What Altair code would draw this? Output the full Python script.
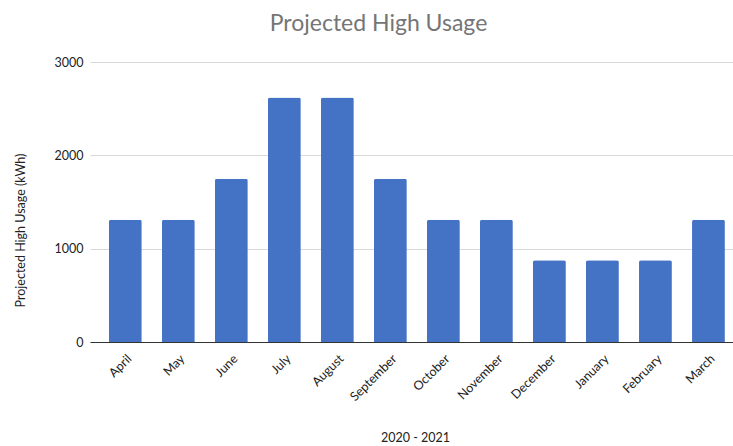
import altair as alt
import pandas as pd

months = ["April", "May", "June", "July", "August", "September", "October",
          "November", "December", "January", "February", "March"]
usage = [1310, 1310, 1750, 2620, 2620, 1750, 1310, 1310, 875, 875, 875, 1310]

df = pd.DataFrame({"month": months, "usage": usage})

FONT = "Lato"

chart = alt.Chart(df).mark_bar(
    color="#4472C4", cornerRadiusTopLeft=2, cornerRadiusTopRight=2
).encode(
    x=alt.X("month:N", sort=months,
            scale=alt.Scale(paddingInner=0.38, paddingOuter=0.255, align=0.7),
            axis=alt.Axis(title="2020 - 2021", labelAngle=315, labelAlign="right",
                          labelBaseline="top", labelPadding=10, ticks=False,
                          domainColor="#333333", labelFont=FONT, labelFontSize=12.5,
                          labelColor="#222222", titleFont=FONT, titleFontSize=12.5,
                          titleFontWeight="normal", titleColor="#222222",
                          titleX=325, titleY=95, titleAlign="center",
                          titleBaseline="middle")),
    y=alt.Y("usage:Q", scale=alt.Scale(domain=[0, 3000]),
            axis=alt.Axis(title="Projected High Usage (kWh)", values=[0, 1000, 2000, 3000],
                          format="d",
                          domain=False, ticks=False, labelPadding=7, gridColor="#d9d9d9",
                          labelFont=FONT, labelFontSize=12.5, labelColor="#222222",
                          titleFont=FONT, titleFontSize=12.5, titleFontWeight="normal",
                          titleColor="#222222", titleAngle=270, titleX=-70, titleY=168,
                          titleAlign="center", titleBaseline="middle")),
).properties(
    width=643, height=280,
    title=alt.TitleParams("Projected High Usage", font=FONT, fontSize=23,
                          fontWeight="normal", color="#757575", anchor="middle",
                          dx=-33, offset=2, baseline="alphabetic"),
    autosize=alt.AutoSizeParams(type="none"),
    padding={"left": 90, "top": 62, "right": 0, "bottom": 104},
).configure_view(stroke=None).configure_axisX(grid=False)

chart.save("out.html", embed_options={"renderer": "svg", "actions": False})
